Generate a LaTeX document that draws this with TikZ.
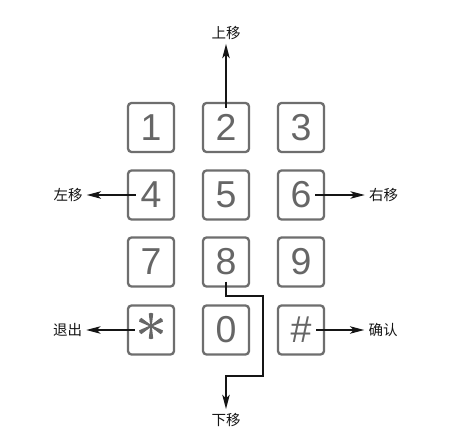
\documentclass[tikz,border=0pt]{standalone}
\usepackage{fontspec}
\setmainfont{Liberation Sans}
\newfontfamily\cjk{Noto Sans CJK SC}
\usetikzlibrary{arrows.meta,calc}
\definecolor{keygray}{HTML}{6E6E6E}
\definecolor{digitgray}{HTML}{666666}
\definecolor{ink}{HTML}{151515}
\begin{document}
\begin{tikzpicture}[x=1pt,y=-1pt,
 key/.style={draw=keygray, line width=2.3pt, rounded corners=3.5pt, minimum width=46pt, minimum height=49pt, inner sep=0pt, text=digitgray, font=\fontsize{37.5}{37.5}\selectfont},
 lbl/.style={font=\cjk\fontsize{14.5}{14.5}\selectfont, text=ink, inner sep=0pt, outer sep=4pt},
 arr/.style={draw=ink, line width=2.9pt, line join=miter, -{Stealth[length=14pt,width=7pt,inset=3pt]}},
]
\useasboundingbox[fill=white] (0,0) rectangle (450,441);
% keys
\node[key] (k1) at (151,127.5) {1};
\node[key] (k2) at (226,127.5) {2};
\node[key] (k3) at (301,127.5) {3};
\node[key] (k4) at (151,195) {4};
\node[key] (k5) at (226,195) {5};
\node[key] (k6) at (301,195) {6};
\node[key] (k7) at (151,262) {7};
\node[key] (k8) at (226,262) {8};
\node[key] (k9) at (301,262) {9};
\node[key] (kstar) at (151,330) {};
\node[key] (k0) at (226,330) {0};
\node[key] (khash) at (301,330) {\#};
% asterisk
\begin{scope}[shift={($(kstar.center)+(0,-4)$)}]
  \foreach \a in {90,30,150,210,270,330}
    \fill[digitgray, rotate=\a] (0,-0.8) -- (12.5,-2.2) -- (13.2,0) -- (12.5,2.2) -- (0,0.8) -- cycle;
\end{scope}
% labels
\node[lbl] (up) at (226,33) {上移};
\node[lbl] (left) at (68,195) {左移};
\node[lbl] (right) at (383.5,195) {右移};
\node[lbl] (exit) at (67.5,330) {退出};
\node[lbl] (ok) at (383,330) {确认};
\node[lbl] (down) at (226,420) {下移};
% arrows
\draw[arr] ([yshift=-6pt]k2.north) -- (up);
\draw[arr] ([xshift=9pt]k4.west) -- (left);
\draw[arr] ([xshift=-10pt]k6.east) -- (right);
\draw[arr] ([xshift=8pt]kstar.west) -- (exit);
\draw[arr] ([xshift=-9pt]khash.east) -- (ok);
\coordinate (d1) at (263,296);
\coordinate (d2) at (263,376);
\draw[arr] ([yshift=6pt]k8.south) -- (k8.south |- d1) -- (d1) -- (d2) -- (d2 -| down) -- (down);
\end{tikzpicture}
\end{document}
